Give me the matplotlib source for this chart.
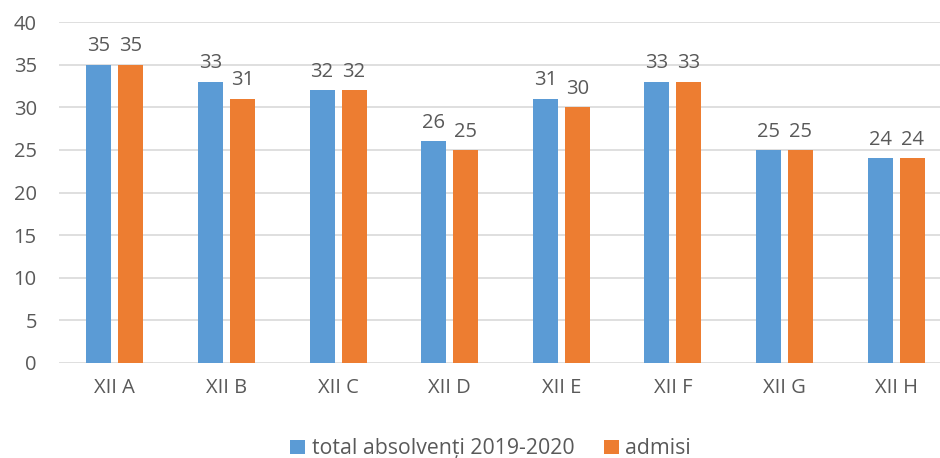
import numpy as np
import matplotlib.pyplot as plt

classes = ["XII A", "XII B", "XII C", "XII D", "XII E", "XII F", "XII G", "XII H"]
total = [35, 33, 32, 26, 31, 33, 25, 24]
admisi = [35, 31, 32, 25, 30, 33, 25, 24]
series_names = ["total absolvenți 2019-2020", "admisi"]

blue = "#5B9BD5"
orange = "#ED7D31"
gray = "#595959"

plt.rcParams['font.family'] = ['Open Sans', 'DejaVu Sans']

dpi = 100
fig = plt.figure(figsize=(9.4, 4.58), dpi=dpi)
# plot area: x 59..952 px, y 22..363 px
ax = fig.add_axes([59/940, (458-363)/458, (952-59)/940, (363-22)/458])

x = np.arange(len(classes))
w = 0.224
off = 0.143
b1 = ax.bar(x - off, total, w, color=blue, label=series_names[0], zorder=3)
b2 = ax.bar(x + off, admisi, w, color=orange, label=series_names[1], zorder=3)

for bars in (b1, b2):
    for r in bars:
        ax.annotate(f"{int(r.get_height())}", (r.get_x() + r.get_width()/2, r.get_height()),
                    xytext=(0, 6), textcoords="offset points", ha="center", va="bottom",
                    fontsize=14.5, color=gray)

ax.set_xlim(-0.5, len(classes) - 0.5)
ax.set_ylim(0, 40)
ax.set_yticks(range(0, 41, 5))
ax.set_xticks(x)
ax.set_xticklabels(classes)
ax.yaxis.grid(True, color="#D9D9D9", linewidth=1.2, zorder=0)
ax.set_axisbelow(True)
for s in ax.spines.values():
    s.set_visible(False)
ax.tick_params(axis="both", length=0, labelsize=14.5, labelcolor=gray)
ax.tick_params(axis="y", pad=16)
ax.tick_params(axis="x", pad=11)

fig.legend(loc="lower center", bbox_to_anchor=(0.522, -0.045), ncol=2, frameon=False,
           fontsize=15.3, labelcolor=gray, handlelength=0.7, handleheight=0.7,
           handletextpad=0.3, columnspacing=1.4)

plt.savefig("out.png", dpi=dpi)
